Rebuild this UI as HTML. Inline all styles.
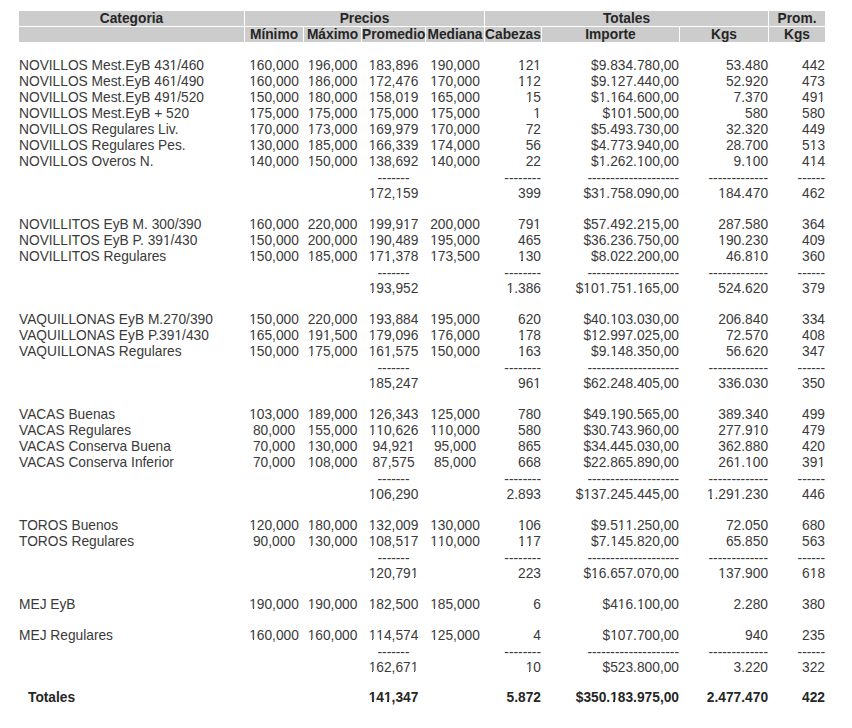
<!DOCTYPE html>
<html><head><meta charset="utf-8">
<style>
html,body{margin:0;padding:0;background:#fff;}
body{width:852px;height:728px;overflow:hidden;position:relative;}
table{position:absolute;left:18px;top:10px;border-collapse:separate;border-spacing:1px;table-layout:fixed;width:808px;
 font-family:"Liberation Sans",sans-serif;font-size:13.75px;line-height:15px;color:#3a3a3a;}
td,th{padding:0;height:15px;white-space:nowrap;overflow:visible;}
th{background:#ccc;font-weight:bold;text-align:center;color:#262626;}
td.l{text-align:left;} td.c{text-align:center;} td.r{text-align:right;}
tr.b td{height:14px;}
tr.b2 td{height:13px;}
tr.tot td{font-weight:bold;color:#262626;}
.ti{padding-left:9px;}
i.o{position:relative;font-style:normal;}
i.o::before,i.o::after{content:"";position:absolute;bottom:0.212em;height:0.09em;background:#fff;}
i.o::before{left:0;width:0.25em;}
i.o::after{left:0.342em;right:0;}
tr.tot i.o::before{width:0.232em;height:0.16em;}
tr.tot i.o::after{left:0.372em;height:0.16em;}
tr.d td{position:relative;top:1px;}
</style></head><body>
<table>
<colgroup><col style="width:225px"><col style="width:58px"><col style="width:57px"><col style="width:63px"><col style="width:58px"><col style="width:56px"><col style="width:137px"><col style="width:88px"><col style="width:56px"></colgroup>
<tr><th>Categoria</th><th colspan="4">Precios</th><th colspan="3">Totales</th><th>Prom.</th></tr>
<tr><th></th><th>Mínimo</th><th>Máximo</th><th>Promedio</th><th>Mediana</th><th>Cabezas</th><th>Importe</th><th>Kgs</th><th>Kgs</th></tr>
<tr class="b"><td colspan="9"></td></tr>
<tr><td class="l">NOVILLOS Mest.EyB 43<i class="o">1</i>/460</td><td class="c"><i class="o">1</i>60,000</td><td class="c"><i class="o">1</i>96,000</td><td class="c"><i class="o">1</i>83,896</td><td class="c"><i class="o">1</i>90,000</td><td class="r"><i class="o">1</i>2<i class="o">1</i></td><td class="r">$9.834.780,00</td><td class="r">53.480</td><td class="r">442</td></tr>
<tr><td class="l">NOVILLOS Mest.EyB 46<i class="o">1</i>/490</td><td class="c"><i class="o">1</i>60,000</td><td class="c"><i class="o">1</i>86,000</td><td class="c"><i class="o">1</i>72,476</td><td class="c"><i class="o">1</i>70,000</td><td class="r"><i class="o">1</i><i class="o">1</i>2</td><td class="r">$9.<i class="o">1</i>27.440,00</td><td class="r">52.920</td><td class="r">473</td></tr>
<tr><td class="l">NOVILLOS Mest.EyB 49<i class="o">1</i>/520</td><td class="c"><i class="o">1</i>50,000</td><td class="c"><i class="o">1</i>80,000</td><td class="c"><i class="o">1</i>58,0<i class="o">1</i>9</td><td class="c"><i class="o">1</i>65,000</td><td class="r"><i class="o">1</i>5</td><td class="r">$<i class="o">1</i>.<i class="o">1</i>64.600,00</td><td class="r">7.370</td><td class="r">49<i class="o">1</i></td></tr>
<tr><td class="l">NOVILLOS Mest.EyB + 520</td><td class="c"><i class="o">1</i>75,000</td><td class="c"><i class="o">1</i>75,000</td><td class="c"><i class="o">1</i>75,000</td><td class="c"><i class="o">1</i>75,000</td><td class="r"><i class="o">1</i></td><td class="r">$<i class="o">1</i>0<i class="o">1</i>.500,00</td><td class="r">580</td><td class="r">580</td></tr>
<tr><td class="l">NOVILLOS Regulares Liv.</td><td class="c"><i class="o">1</i>70,000</td><td class="c"><i class="o">1</i>73,000</td><td class="c"><i class="o">1</i>69,979</td><td class="c"><i class="o">1</i>70,000</td><td class="r">72</td><td class="r">$5.493.730,00</td><td class="r">32.320</td><td class="r">449</td></tr>
<tr><td class="l">NOVILLOS Regulares Pes.</td><td class="c"><i class="o">1</i>30,000</td><td class="c"><i class="o">1</i>85,000</td><td class="c"><i class="o">1</i>66,339</td><td class="c"><i class="o">1</i>74,000</td><td class="r">56</td><td class="r">$4.773.940,00</td><td class="r">28.700</td><td class="r">5<i class="o">1</i>3</td></tr>
<tr><td class="l">NOVILLOS Overos N.</td><td class="c"><i class="o">1</i>40,000</td><td class="c"><i class="o">1</i>50,000</td><td class="c"><i class="o">1</i>38,692</td><td class="c"><i class="o">1</i>40,000</td><td class="r">22</td><td class="r">$<i class="o">1</i>.262.<i class="o">1</i>00,00</td><td class="r">9.<i class="o">1</i>00</td><td class="r">4<i class="o">1</i>4</td></tr>
<tr class="d"><td class="l"></td><td class="c"></td><td class="c"></td><td class="c">-------</td><td class="c"></td><td class="r">--------</td><td class="r">--------------------</td><td class="r">-------------</td><td class="r">------</td></tr>
<tr><td class="l"></td><td class="c"></td><td class="c"></td><td class="c"><i class="o">1</i>72,<i class="o">1</i>59</td><td class="c"></td><td class="r">399</td><td class="r">$3<i class="o">1</i>.758.090,00</td><td class="r"><i class="o">1</i>84.470</td><td class="r">462</td></tr>
<tr class="b"><td colspan="9"></td></tr>
<tr><td class="l">NOVILLITOS EyB M. 300/390</td><td class="c"><i class="o">1</i>60,000</td><td class="c">220,000</td><td class="c"><i class="o">1</i>99,9<i class="o">1</i>7</td><td class="c">200,000</td><td class="r">79<i class="o">1</i></td><td class="r">$57.492.2<i class="o">1</i>5,00</td><td class="r">287.580</td><td class="r">364</td></tr>
<tr><td class="l">NOVILLITOS EyB P. 39<i class="o">1</i>/430</td><td class="c"><i class="o">1</i>50,000</td><td class="c">200,000</td><td class="c"><i class="o">1</i>90,489</td><td class="c"><i class="o">1</i>95,000</td><td class="r">465</td><td class="r">$36.236.750,00</td><td class="r"><i class="o">1</i>90.230</td><td class="r">409</td></tr>
<tr><td class="l">NOVILLITOS Regulares</td><td class="c"><i class="o">1</i>50,000</td><td class="c"><i class="o">1</i>85,000</td><td class="c"><i class="o">1</i>7<i class="o">1</i>,378</td><td class="c"><i class="o">1</i>73,500</td><td class="r"><i class="o">1</i>30</td><td class="r">$8.022.200,00</td><td class="r">46.8<i class="o">1</i>0</td><td class="r">360</td></tr>
<tr class="d"><td class="l"></td><td class="c"></td><td class="c"></td><td class="c">-------</td><td class="c"></td><td class="r">--------</td><td class="r">--------------------</td><td class="r">-------------</td><td class="r">------</td></tr>
<tr><td class="l"></td><td class="c"></td><td class="c"></td><td class="c"><i class="o">1</i>93,952</td><td class="c"></td><td class="r"><i class="o">1</i>.386</td><td class="r">$<i class="o">1</i>0<i class="o">1</i>.75<i class="o">1</i>.<i class="o">1</i>65,00</td><td class="r">524.620</td><td class="r">379</td></tr>
<tr class="b"><td colspan="9"></td></tr>
<tr><td class="l">VAQUILLONAS EyB M.270/390</td><td class="c"><i class="o">1</i>50,000</td><td class="c">220,000</td><td class="c"><i class="o">1</i>93,884</td><td class="c"><i class="o">1</i>95,000</td><td class="r">620</td><td class="r">$40.<i class="o">1</i>03.030,00</td><td class="r">206.840</td><td class="r">334</td></tr>
<tr><td class="l">VAQUILLONAS EyB P.39<i class="o">1</i>/430</td><td class="c"><i class="o">1</i>65,000</td><td class="c"><i class="o">1</i>9<i class="o">1</i>,500</td><td class="c"><i class="o">1</i>79,096</td><td class="c"><i class="o">1</i>76,000</td><td class="r"><i class="o">1</i>78</td><td class="r">$<i class="o">1</i>2.997.025,00</td><td class="r">72.570</td><td class="r">408</td></tr>
<tr><td class="l">VAQUILLONAS Regulares</td><td class="c"><i class="o">1</i>50,000</td><td class="c"><i class="o">1</i>75,000</td><td class="c"><i class="o">1</i>6<i class="o">1</i>,575</td><td class="c"><i class="o">1</i>50,000</td><td class="r"><i class="o">1</i>63</td><td class="r">$9.<i class="o">1</i>48.350,00</td><td class="r">56.620</td><td class="r">347</td></tr>
<tr class="d"><td class="l"></td><td class="c"></td><td class="c"></td><td class="c">-------</td><td class="c"></td><td class="r">--------</td><td class="r">--------------------</td><td class="r">-------------</td><td class="r">------</td></tr>
<tr><td class="l"></td><td class="c"></td><td class="c"></td><td class="c"><i class="o">1</i>85,247</td><td class="c"></td><td class="r">96<i class="o">1</i></td><td class="r">$62.248.405,00</td><td class="r">336.030</td><td class="r">350</td></tr>
<tr class="b"><td colspan="9"></td></tr>
<tr><td class="l">VACAS Buenas</td><td class="c"><i class="o">1</i>03,000</td><td class="c"><i class="o">1</i>89,000</td><td class="c"><i class="o">1</i>26,343</td><td class="c"><i class="o">1</i>25,000</td><td class="r">780</td><td class="r">$49.<i class="o">1</i>90.565,00</td><td class="r">389.340</td><td class="r">499</td></tr>
<tr><td class="l">VACAS Regulares</td><td class="c">80,000</td><td class="c"><i class="o">1</i>55,000</td><td class="c"><i class="o">1</i><i class="o">1</i>0,626</td><td class="c"><i class="o">1</i><i class="o">1</i>0,000</td><td class="r">580</td><td class="r">$30.743.960,00</td><td class="r">277.9<i class="o">1</i>0</td><td class="r">479</td></tr>
<tr><td class="l">VACAS Conserva Buena</td><td class="c">70,000</td><td class="c"><i class="o">1</i>30,000</td><td class="c">94,92<i class="o">1</i></td><td class="c">95,000</td><td class="r">865</td><td class="r">$34.445.030,00</td><td class="r">362.880</td><td class="r">420</td></tr>
<tr><td class="l">VACAS Conserva Inferior</td><td class="c">70,000</td><td class="c"><i class="o">1</i>08,000</td><td class="c">87,575</td><td class="c">85,000</td><td class="r">668</td><td class="r">$22.865.890,00</td><td class="r">26<i class="o">1</i>.<i class="o">1</i>00</td><td class="r">39<i class="o">1</i></td></tr>
<tr class="d"><td class="l"></td><td class="c"></td><td class="c"></td><td class="c">-------</td><td class="c"></td><td class="r">--------</td><td class="r">--------------------</td><td class="r">-------------</td><td class="r">------</td></tr>
<tr><td class="l"></td><td class="c"></td><td class="c"></td><td class="c"><i class="o">1</i>06,290</td><td class="c"></td><td class="r">2.893</td><td class="r">$<i class="o">1</i>37.245.445,00</td><td class="r"><i class="o">1</i>.29<i class="o">1</i>.230</td><td class="r">446</td></tr>
<tr class="b"><td colspan="9"></td></tr>
<tr><td class="l">TOROS Buenos</td><td class="c"><i class="o">1</i>20,000</td><td class="c"><i class="o">1</i>80,000</td><td class="c"><i class="o">1</i>32,009</td><td class="c"><i class="o">1</i>30,000</td><td class="r"><i class="o">1</i>06</td><td class="r">$9.5<i class="o">1</i><i class="o">1</i>.250,00</td><td class="r">72.050</td><td class="r">680</td></tr>
<tr><td class="l">TOROS Regulares</td><td class="c">90,000</td><td class="c"><i class="o">1</i>30,000</td><td class="c"><i class="o">1</i>08,5<i class="o">1</i>7</td><td class="c"><i class="o">1</i><i class="o">1</i>0,000</td><td class="r"><i class="o">1</i><i class="o">1</i>7</td><td class="r">$7.<i class="o">1</i>45.820,00</td><td class="r">65.850</td><td class="r">563</td></tr>
<tr class="d"><td class="l"></td><td class="c"></td><td class="c"></td><td class="c">-------</td><td class="c"></td><td class="r">--------</td><td class="r">--------------------</td><td class="r">-------------</td><td class="r">------</td></tr>
<tr><td class="l"></td><td class="c"></td><td class="c"></td><td class="c"><i class="o">1</i>20,79<i class="o">1</i></td><td class="c"></td><td class="r">223</td><td class="r">$<i class="o">1</i>6.657.070,00</td><td class="r"><i class="o">1</i>37.900</td><td class="r">6<i class="o">1</i>8</td></tr>
<tr class="b"><td colspan="9"></td></tr>
<tr><td class="l">MEJ EyB</td><td class="c"><i class="o">1</i>90,000</td><td class="c"><i class="o">1</i>90,000</td><td class="c"><i class="o">1</i>82,500</td><td class="c"><i class="o">1</i>85,000</td><td class="r">6</td><td class="r">$4<i class="o">1</i>6.<i class="o">1</i>00,00</td><td class="r">2.280</td><td class="r">380</td></tr>
<tr class="b"><td colspan="9"></td></tr>
<tr><td class="l">MEJ Regulares</td><td class="c"><i class="o">1</i>60,000</td><td class="c"><i class="o">1</i>60,000</td><td class="c"><i class="o">1</i><i class="o">1</i>4,574</td><td class="c"><i class="o">1</i>25,000</td><td class="r">4</td><td class="r">$<i class="o">1</i>07.700,00</td><td class="r">940</td><td class="r">235</td></tr>
<tr class="d"><td class="l"></td><td class="c"></td><td class="c"></td><td class="c">-------</td><td class="c"></td><td class="r">--------</td><td class="r">--------------------</td><td class="r">-------------</td><td class="r">------</td></tr>
<tr><td class="l"></td><td class="c"></td><td class="c"></td><td class="c"><i class="o">1</i>62,67<i class="o">1</i></td><td class="c"></td><td class="r"><i class="o">1</i>0</td><td class="r">$523.800,00</td><td class="r">3.220</td><td class="r">322</td></tr>
<tr class="b2"><td colspan="9"></td></tr>
<tr class="tot"><td class="l"><span class="ti">Totales</span></td><td class="c"></td><td class="c"></td><td class="c"><i class="o">1</i>4<i class="o">1</i>,347</td><td class="c"></td><td class="r">5.872</td><td class="r">$350.<i class="o">1</i>83.975,00</td><td class="r">2.477.470</td><td class="r">422</td></tr>
</table>
</body></html>
